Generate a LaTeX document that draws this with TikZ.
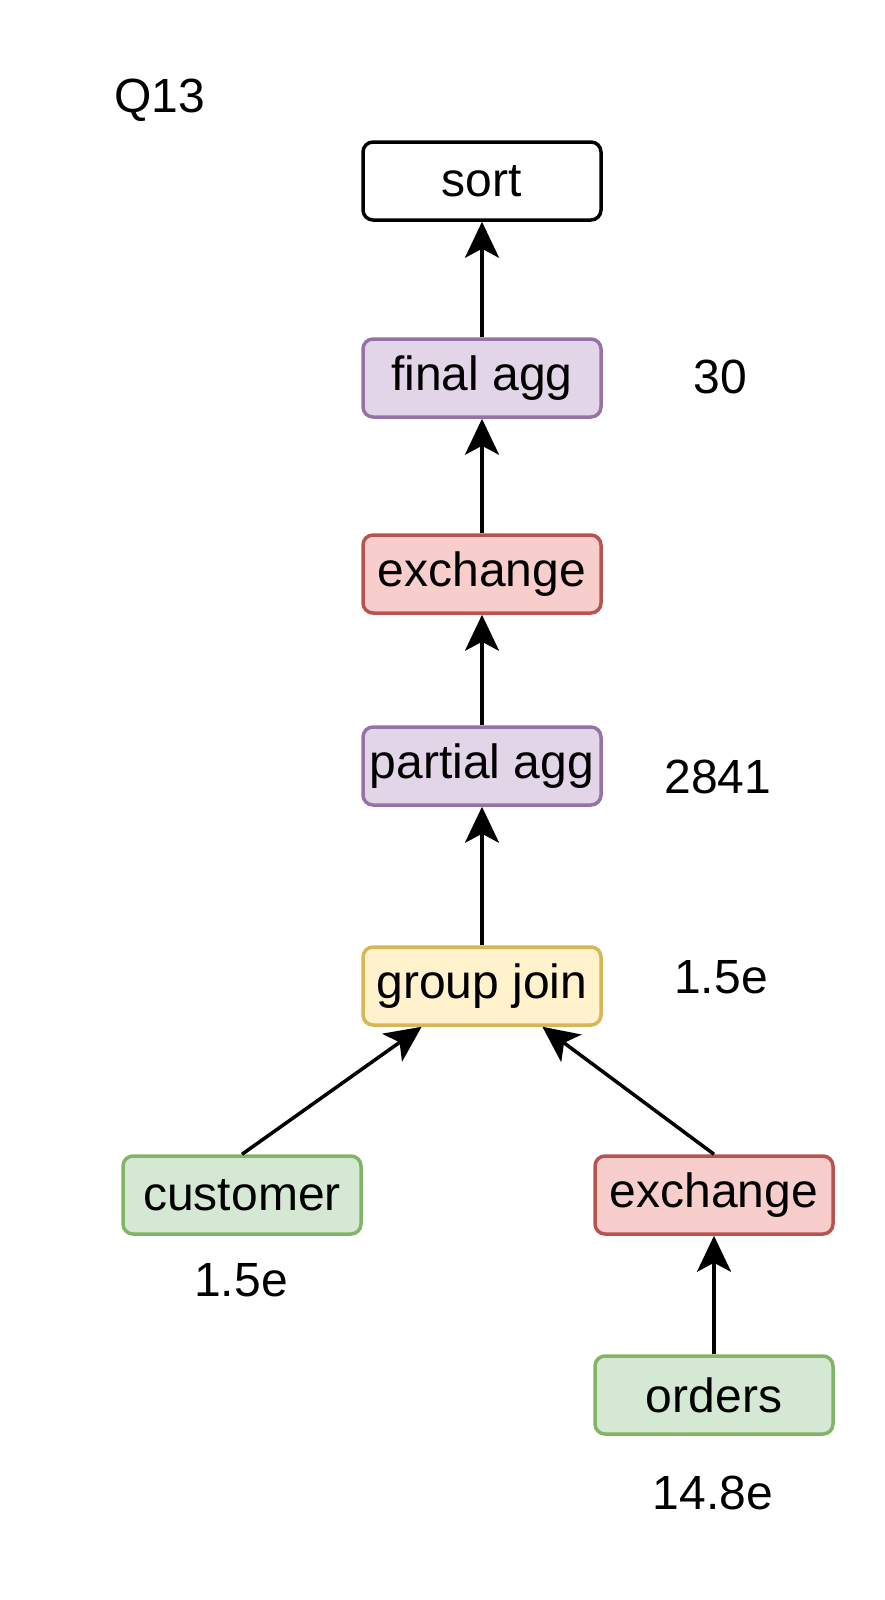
\documentclass[tikz,border=0pt]{standalone}
\usepackage{fontspec}
\setmainfont{Liberation Sans}
\usetikzlibrary{arrows.meta,calc}
\definecolor{purfill}{HTML}{E1D5E7}\definecolor{purline}{HTML}{9673A6}
\definecolor{redfill}{HTML}{F8CECC}\definecolor{redline}{HTML}{B85450}
\definecolor{yelfill}{HTML}{FFF2CC}\definecolor{yelline}{HTML}{D6B656}
\definecolor{grnfill}{HTML}{D5E8D4}\definecolor{grnline}{HTML}{82B366}
\tikzset{
  opbox/.style={draw, line width=3.5pt, rounded corners=10pt, minimum width=238pt, minimum height=78pt, inner sep=0pt, font=\fontsize{48}{57}\selectfont},
  plainbox/.style={opbox, draw=black, fill=white},
  aggbox/.style={opbox, draw=purline, fill=purfill},
  exchbox/.style={opbox, draw=redline, fill=redfill},
  joinbox/.style={opbox, draw=yelline, fill=yelfill},
  scanbox/.style={opbox, draw=grnline, fill=grnfill},
  lbl/.style={font=\fontsize{48}{57}\selectfont, inner sep=0pt},
  flow/.style={line width=3.5pt, -{Stealth[length=36pt,width=34pt,inset=9pt]}}
}
\begin{document}
\begin{tikzpicture}[x=1pt,y=-1pt]
\path[use as bounding box] (0,0) rectangle (884,1600);
\node[plainbox] (sort) at (482,181) {sort};
\node[aggbox] (fagg) at (482,378) {final agg};
\node[exchbox] (ex1) at (482,574) {exchange};
\node[aggbox] (pagg) at (482,766) {partial agg};
\node[joinbox] (gj) at (482,986) {group join};
\node[scanbox] (cust) at (242,1195) {customer};
\node[exchbox] (ex2) at (714,1195) {exchange};
\node[scanbox] (ord) at (714,1395) {orders};
\node[lbl] (q) at (160,100) {Q13};
\node[lbl] (l30) at (720,377) {30};
\node[lbl] (l2841) at (718,777) {2841};
\node[lbl] (lgj) at (721,977) {1.5e};
\node[lbl] (lcust) at (241,1280) {1.5e};
\node[lbl] (lord) at (713,1493) {14.8e};
\coordinate (gjL) at ($(gj.south west)!0.25!(gj.south east)$);
\coordinate (gjR) at ($(gj.south west)!0.75!(gj.south east)$);
\draw[flow] (fagg.north) -- (sort.south);
\draw[flow] (ex1.north) -- (fagg.south);
\draw[flow] (pagg.north) -- (ex1.south);
\draw[flow] (gj.north) -- (pagg.south);
\draw[flow] (cust.north) -- (gjL);
\draw[flow] (ex2.north) -- (gjR);
\draw[flow] (ord.north) -- (ex2.south);
\end{tikzpicture}
\end{document}
